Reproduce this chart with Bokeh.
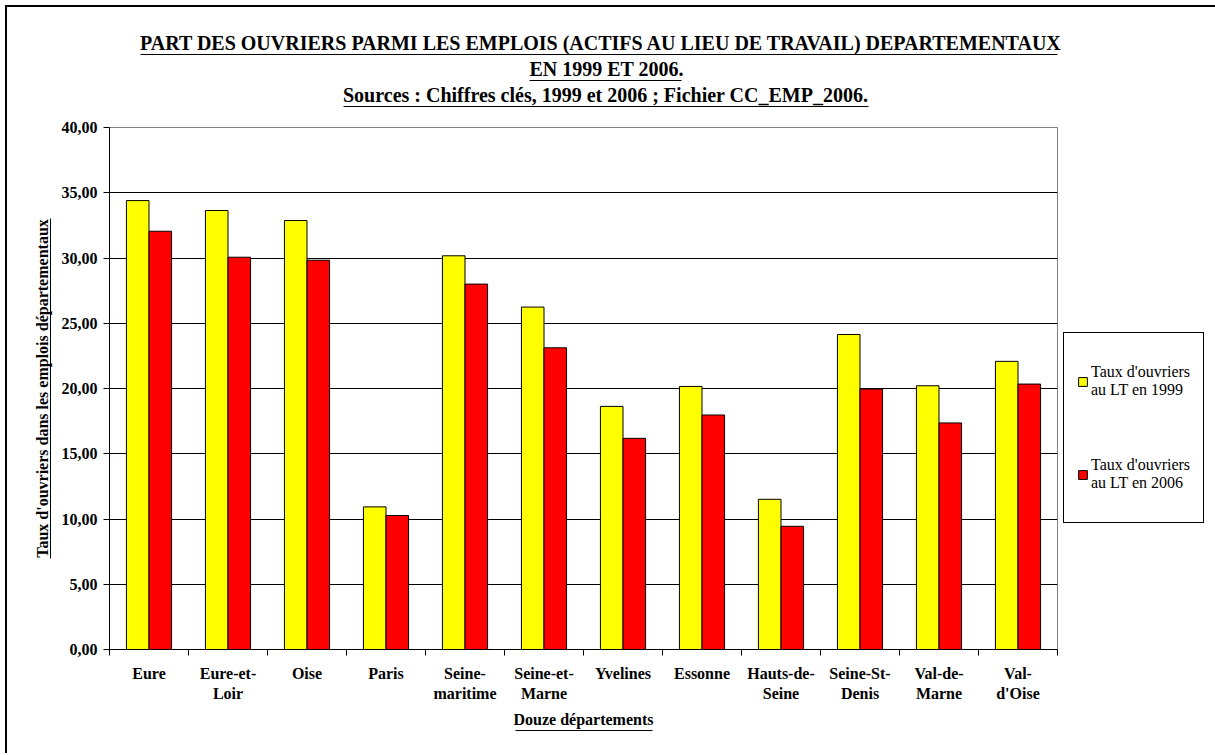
import numpy as np
from bokeh.plotting import figure
from bokeh.models import (Range1d, LinearAxis, FixedTicker, CustomJSTickFormatter, Legend,
                          LegendItem, ColumnDataSource, Grid, Title)
from bokeh.transform import dodge
from bokeh.embed import file_html
from bokeh.resources import INLINE

# ---------------- data ----------------
departements = ["Eure", "Eure-et-Loir", "Oise", "Paris", "Seine-maritime", "Seine-et-Marne",
                "Yvelines", "Essonne", "Hauts-de-Seine", "Seine-St-Denis", "Val-de-Marne", "Val-d'Oise"]
tick_labels = ["Eure", "Eure-et-\nLoir", "Oise", "Paris", "Seine-\nmaritime", "Seine-et-\nMarne",
               "Yvelines", "Essonne", "Hauts-de-\nSeine", "Seine-St-\nDenis", "Val-de-\nMarne", "Val-\nd'Oise"]
taux_1999 = [34.40, 33.64, 32.87, 10.93, 30.17, 26.24, 18.63, 20.16, 11.51, 24.14, 20.21, 22.08]
taux_2006 = [32.05, 30.06, 29.83, 10.27, 28.00, 23.12, 16.18, 17.97, 9.44, 19.96, 17.36, 20.34]
y_ticks = [0, 5, 10, 15, 20, 25, 30, 35, 40]
series_labels = ["Taux d'ouvriers\nau LT en 1999", "Taux d'ouvriers\nau LT en 2006"]
title_lines = ["PART DES OUVRIERS PARMI LES EMPLOIS (ACTIFS AU LIEU DE TRAVAIL) DEPARTEMENTAUX",
               "EN 1999 ET 2006.",
               "Sources : Chiffres clés, 1999 et 2006 ; Fichier CC_EMP_2006."]
x_title = "Douze départements"
y_title = "Taux d'ouvriers dans les emplois départementaux"

FONT = "Liberation Serif"
n = len(departements)
centers = list(np.arange(n) + 0.5)
bounds = list(np.arange(n + 1).astype(float))
bar_w = 0.2857

FRAME_L, FRAME_R, FRAME_T, FRAME_B = 109, 1057, 127, 649

p = figure(frame_width=948, frame_height=522,
           min_border_left=102, min_border_right=156, min_border_top=120, min_border_bottom=104,
           x_range=Range1d(0, n), y_range=Range1d(0, 40),
           x_axis_type=None, y_axis_type=None,
           output_backend="svg", toolbar_location=None,
           styles={"margin-left": "5px", "margin-top": "5px",
                   "border-left": "2px solid black", "border-top": "2px solid black"})
p.background_fill_color = "white"
p.border_fill_color = "white"
p.outline_line_color = "#808080"
p.outline_line_width = 1

# helper ranges in page pixels (used only for the underline rules)
p.extra_x_ranges = {"page_x": Range1d(FRAME_L, FRAME_R)}
p.extra_y_ranges = {"page_y": Range1d(FRAME_B, FRAME_T)}

# grid
p.add_layout(Grid(dimension=1, ticker=FixedTicker(ticks=y_ticks), grid_line_color="black",
                  grid_line_width=1))

source = ColumnDataSource(dict(x=centers, taux_1999=taux_1999, taux_2006=taux_2006))
r1 = p.vbar(x=dodge("x", -bar_w / 2), top="taux_1999", width=bar_w, source=source,
            fill_color="#FFFF00", line_color="black", line_width=1)
r2 = p.vbar(x=dodge("x", bar_w / 2), top="taux_2006", width=bar_w, source=source,
            fill_color="#FF0000", line_color="black", line_width=1)


def rule_axis(range_name, dim, span=None, label=None, standoff=0, size=16, gap=0):
    """Axis used as an underline rule (span) or as an invisible spacer (gap)."""
    kw = {"x_range_name" if dim == "x" else "y_range_name": range_name}
    if gap > 0:
        rng = (FRAME_L, FRAME_R) if dim == "x" else (FRAME_B, FRAME_T)
        ticker = FixedTicker(ticks=[(rng[0] + rng[1]) / 2], minor_ticks=[])
    else:
        ticker = FixedTicker(ticks=[], minor_ticks=[])
    ax = LinearAxis(ticker=ticker, formatter=CustomJSTickFormatter(code="return '';"), **kw)
    ax.major_tick_in = 0
    ax.major_tick_out = gap
    ax.minor_tick_in = 0
    ax.minor_tick_out = 0
    ax.major_tick_line_color = None
    ax.minor_tick_line_color = None
    ax.major_label_standoff = 0
    ax.major_label_text_font_size = "1px"
    ax.major_label_text_alpha = 0
    if span is None:
        ax.axis_line_color = None
    else:
        ax.bounds = span
        ax.axis_line_color = "black"
        ax.axis_line_width = 1
    if label is not None:
        ax.axis_label = label
        ax.axis_label_text_font = FONT
        ax.axis_label_text_font_size = f"{size}px"
        ax.axis_label_text_font_style = "bold"
        ax.axis_label_text_color = "black"
        ax.axis_label_standoff = standoff
    return ax


# x axis (categories)
xaxis = LinearAxis(ticker=FixedTicker(ticks=centers, minor_ticks=bounds),
                   formatter=CustomJSTickFormatter(args=dict(names=tick_labels),
                                                   code="return names[Math.floor(tick)];"))
xaxis.major_tick_line_color = None
xaxis.major_tick_in = 0
xaxis.major_tick_out = 6
xaxis.minor_tick_in = 0
xaxis.minor_tick_out = 6
xaxis.minor_tick_line_color = "black"
xaxis.axis_line_color = "black"
xaxis.major_label_text_font = FONT
xaxis.major_label_text_font_size = "16px"
xaxis.major_label_text_font_style = "bold"
xaxis.major_label_text_color = "black"
xaxis.major_label_standoff = 9
xaxis.axis_label = x_title
xaxis.axis_label_text_font = FONT
xaxis.axis_label_text_font_size = "16px"
xaxis.axis_label_text_font_style = "bold"
xaxis.axis_label_text_color = "black"
xaxis.axis_label_standoff = 6
p.add_layout(xaxis, "below")
p.add_layout(rule_axis("page_x", "x", span=(583 - 68.5, 583 + 68.5)), "below")   # underline

# y axis
yaxis = LinearAxis(ticker=FixedTicker(ticks=y_ticks, minor_ticks=[]),
                   formatter=CustomJSTickFormatter(code="return tick.toFixed(2).replace('.', ',');"))
yaxis.major_tick_in = 0
yaxis.major_tick_out = 6
yaxis.major_tick_line_color = "black"
yaxis.axis_line_color = "black"
yaxis.major_label_text_font = FONT
yaxis.major_label_text_font_size = "16px"
yaxis.major_label_text_font_style = "bold"
yaxis.major_label_text_color = "black"
yaxis.major_label_standoff = 6
p.add_layout(yaxis, "left")
p.add_layout(rule_axis("page_y", "y", gap=8), "left")           # spacer
p.add_layout(rule_axis("page_y", "y", span=(218, 558), label=y_title, standoff=0, size=16), "left")

# titles: stacked upward from the frame, each with its underline rule below it
p.add_layout(rule_axis("page_x", "x", gap=21), "above")          # spacer
title_w = [921, 152, 525]
title_c = [600, 605, 605]
for txt, tw, tc in list(zip(title_lines, title_w, title_c))[::-1]:
    left = tc - tw / 2
    p.add_layout(rule_axis("page_x", "x", span=(left, left + tw)), "above")
    p.add_layout(Title(text=txt, align="left", offset=left - FRAME_L, standoff=2,
                       text_font=FONT, text_font_size="20px", text_font_style="bold",
                       text_color="black"), "above")

# legend
legend = Legend(items=[LegendItem(label=series_labels[0], renderers=[r1]),
                       LegendItem(label=series_labels[1], renderers=[r2])],
                location=(6, 126))
legend.label_text_font = FONT
legend.label_text_font_size = "16px"
legend.label_text_color = "black"
legend.glyph_width = 11
legend.glyph_height = 11
legend.label_height = 70
legend.padding = 13
legend.spacing = 23
legend.label_standoff = 3
legend.margin = 0
legend.border_line_color = "black"
legend.border_line_alpha = 1.0
legend.border_line_width = 1
legend.background_fill_color = "white"
legend.background_fill_alpha = 1
p.add_layout(legend, "right")

open("out.html", "w").write(file_html(p, INLINE))
